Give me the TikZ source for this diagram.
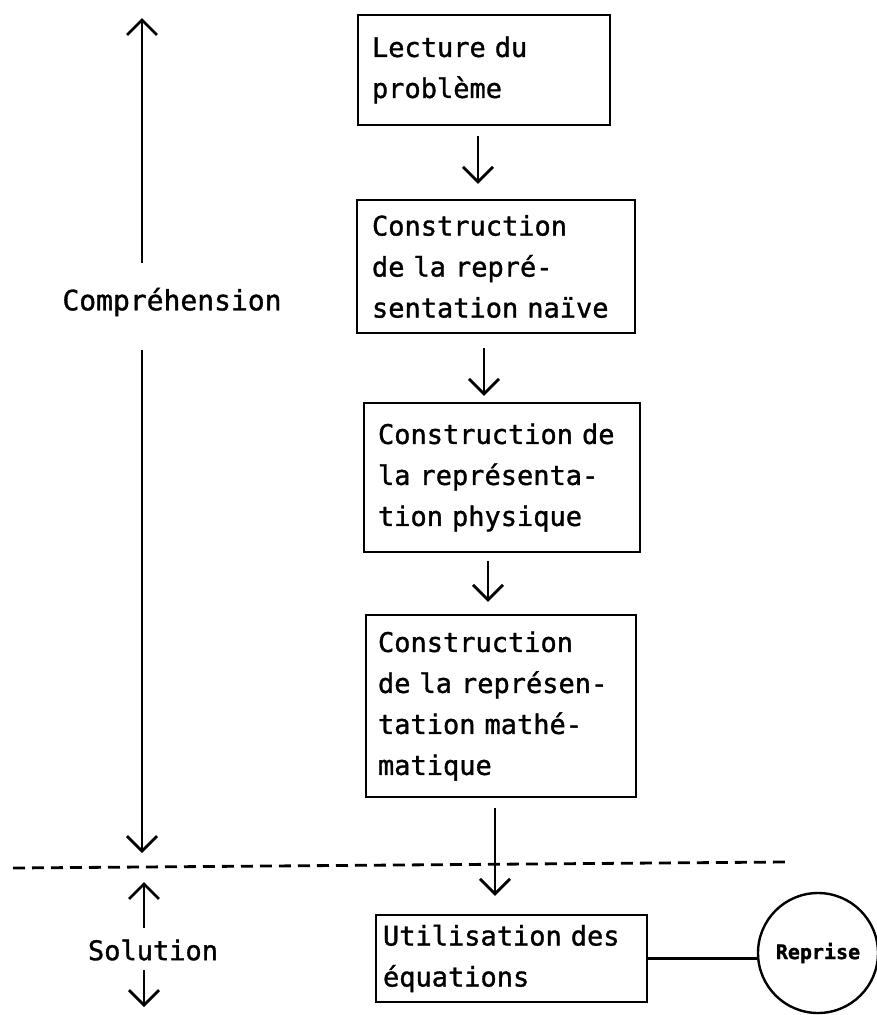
\documentclass[tikz,border=0pt]{standalone}
\usepackage{fontspec}
\setmainfont{DejaVu Sans Mono}[RawFeature={embolden=1.2}]
\usetikzlibrary{arrows.meta}
\tikzset{
  box/.style={draw, line width=2.4pt, align=left, inner ysep=0pt,
    font=\fontsize{27}{41}\selectfont},
  lbl/.style={inner sep=0pt, font=\fontsize{27}{41}\selectfont},
  arr/.style={-{Straight Barb[length=15pt,width=30pt]}, line width=2.8pt},
  link/.style={line width=2.2pt},
  sep/.style={line width=2.8pt, dash pattern=on 12pt off 7pt},
  ring/.style={draw, circle, line width=2.4pt, minimum size=120pt, inner sep=0pt,
    font=\fontsize{20}{24}\selectfont\bfseries}
}
\begin{document}
\begin{tikzpicture}[x=1pt,y=-1pt]
\useasboundingbox[fill=white] (0,0) rectangle (876,1015);
% boxes
\node[box, minimum width=252pt, minimum height=110pt, inner xsep=14pt, text width=224pt] (b1) at (484,70) {Lecture du\\problème};
\node[box, minimum width=278pt, minimum height=133pt, inner xsep=15pt, text width=248pt] (b2) at (496,266.5) {Construction\\de la repré-\\sentation naïve};
\node[box, minimum width=276pt, minimum height=149pt, inner xsep=14pt, text width=248pt] (b3) at (502,477.5) {Construction de\\la représenta-\\tion physique};
\node[box, minimum width=270pt, minimum height=182pt, inner xsep=12pt, text width=246pt] (b4) at (501,706) {Construction\\de la représen-\\tation mathé-\\matique};
\node[box, minimum width=271pt, minimum height=87pt, inner xsep=7pt, text width=257pt] (b5) at (511.5,958.5) {Utilisation des\\équations};
\node[ring] (rep) at (818,953) {Reprise};
% flow arrows
\draw[arr, shorten <=10pt, shorten >=15pt] (b1.south -| 478,0) -- (b2.north -| 478,0);
\draw[arr, shorten <=14pt, shorten >=6pt] (b2.south -| 484,0) -- (b3.north -| 484,0);
\draw[arr, shorten <=8pt, shorten >=12pt] (b3.south -| 488,0) -- (b4.north -| 488,0);
\draw[arr, shorten <=10pt, shorten >=18pt] (b4.south -| 495,0) -- (b5.north -| 495,0);
\draw[link] (b5.east) -- (b5.east -| rep.west);
% separator
\coordinate (dl) at (13,868);
\coordinate (dr) at (785,862);
\draw[sep] (dl) -- (dr);
% left phase labels
\node[lbl, font=\fontsize{28}{34}\selectfont] (comp) at (172,302) {Compréhension};
\coordinate (ctop) at (142,18);
\coordinate (cup) at (142,263);
\coordinate (cdn) at (142,350);
\coordinate (cbot) at (142,853);
\draw[arr] (cup) -- (ctop);
\draw[arr] (cdn) -- (cbot);
\node[lbl] (sol) at (153,950) {Solution};
\coordinate (stop) at (144,882);
\coordinate (sup) at (144,928);
\coordinate (sdn) at (144,970);
\coordinate (sbot) at (144,1007);
\draw[arr] (sup) -- (stop);
\draw[arr] (sdn) -- (sbot);
\end{tikzpicture}
\end{document}
